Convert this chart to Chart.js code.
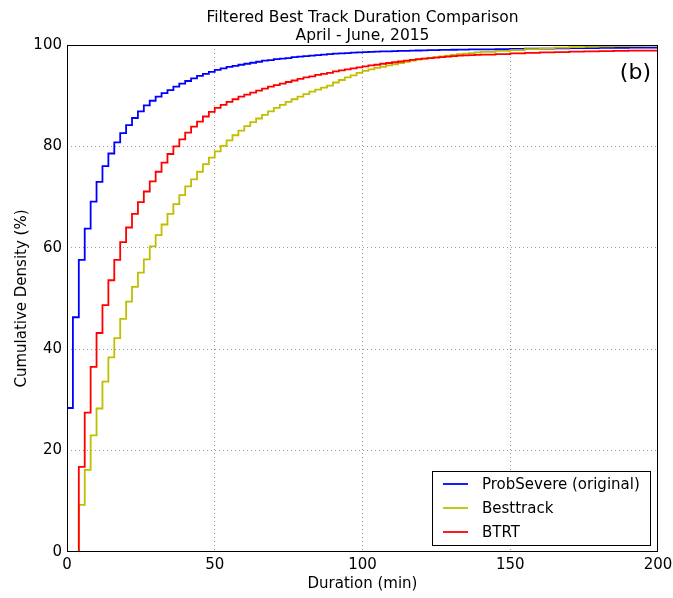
<!DOCTYPE html>
<html>
<head>
<meta charset="utf-8">
<script src="https://cdn.jsdelivr.net/npm/chart.js@4/dist/chart.umd.min.js"></script>
<style>
  html, body { margin: 0; padding: 0; background: #fff; }
  #wrap { width: 673px; height: 598px; }
</style>
</head>
<body>
<div id="wrap"><canvas id="c" width="673" height="598"></canvas></div>
<script>
// Duration (minutes) at which each cumulative value applies
const durations = [0,2,4,6,8,10,12,14,16,18,20,22,24,26,28,30,32,34,36,38,40,42,44,46,48,50,
  52,54,56,58,60,62,64,66,68,70,72,74,76,78,80,82,84,86,88,90,92,94,96,98,
  100,102,104,106,108,110,112,114,116,118,120,122,124,126,128,130,132,134,136,138,140,
  145,150,155,160,165,170,175,180,185,190,195,200];

const probSevere = [28.4,46.3,57.6,63.8,69.1,73.0,76.1,78.6,80.8,82.6,84.2,85.6,86.9,88.1,89.0,89.8,90.5,91.1,91.8,92.4,92.9,93.4,93.9,94.3,94.7,95.1,
  95.4,95.7,95.9,96.1,96.3,96.5,96.7,96.9,97.0,97.2,97.3,97.4,97.6,97.7,97.8,97.9,98.0,98.1,98.2,98.3,98.35,98.4,98.5,98.55,
  98.6,98.65,98.7,98.73,98.76,98.8,98.83,98.86,98.89,98.92,98.95,98.97,99.0,99.02,99.04,99.06,99.08,99.1,99.12,99.14,99.15,
  99.2,99.25,99.3,99.3,99.35,99.4,99.4,99.45,99.45,99.5,99.5,99.5];

const besttrack = [0,0,9.3,16.2,23.0,28.3,33.6,38.4,42.2,46.0,49.4,52.3,55.1,57.7,60.3,62.5,64.6,66.7,68.6,70.4,72.1,73.5,75.0,76.5,77.8,79.0,
  80.1,81.2,82.2,83.1,84.0,84.8,85.5,86.2,86.9,87.6,88.2,88.8,89.3,89.8,90.3,90.8,91.2,91.6,92.0,92.6,93.1,93.6,94.0,94.5,
  94.9,95.2,95.5,95.7,96.0,96.2,96.45,96.7,96.9,97.1,97.3,97.45,97.6,97.75,97.9,98.05,98.2,98.3,98.4,98.55,98.65,
  98.85,99.0,99.2,99.35,99.5,99.6,99.7,99.75,99.8,99.85,99.9,99.9];

const btrt = [0,0,16.8,27.5,36.5,43.2,48.7,53.6,57.6,61.1,64.0,66.7,69.0,71.1,73.1,75.0,76.8,78.5,80.0,81.4,82.7,83.9,84.9,85.9,86.8,87.6,
  88.2,88.8,89.3,89.8,90.2,90.6,91.0,91.4,91.8,92.1,92.4,92.7,93.0,93.3,93.6,93.8,94.1,94.3,94.5,94.8,95.0,95.2,95.4,95.6,
  95.8,96.0,96.1,96.3,96.45,96.6,96.75,96.9,97.05,97.2,97.3,97.4,97.5,97.6,97.7,97.8,97.9,97.95,98.0,98.05,98.1,
  98.2,98.35,98.45,98.55,98.6,98.7,98.75,98.8,98.85,98.9,98.9,98.95];

const seriesNames = ['ProbSevere (original)', 'Besttrack', 'BTRT'];
const titleLines = ['Filtered Best Track Duration Comparison', 'April - June, 2015'];
const xTitle = 'Duration (min)';
const yTitle = 'Cumulative Density (%)';
const panelTag = '(b)';

const FONT = "'DejaVu Sans', 'Liberation Sans', sans-serif";
const toPts = vals => durations.map((d, i) => ({ x: d, y: vals[i] }));

const framePlugin = {
  id: 'framePlugin',
  afterDraw(chart) {
    const { ctx, chartArea: a } = chart;
    ctx.save();
    ctx.fillStyle = '#000';
    ctx.font = '15.5px ' + FONT;
    ctx.textAlign = 'center';
    ctx.textBaseline = 'middle';
    const cx = (a.left + a.right) / 2;
    ctx.fillText(titleLines[0], cx, 18);
    ctx.fillText(titleLines[1], cx, 36);
    ctx.restore();
  },
  afterDatasetsDraw(chart) {
    const { ctx, chartArea: a } = chart;
    ctx.save();
    ctx.strokeStyle = '#000';
    ctx.lineWidth = 1;
    ctx.strokeRect(Math.round(a.left) + 0.5, Math.round(a.top) + 0.5,
                   Math.round(a.right - a.left) - 1, Math.round(a.bottom - a.top) - 1);
    ctx.fillStyle = '#000';
    ctx.font = '22px ' + FONT;
    ctx.textAlign = 'right';
    ctx.textBaseline = 'middle';
    ctx.fillText(panelTag, a.right - 7, a.top + 28);
    const bx = 432, by = 471, bw = 218, bh = 74;
    ctx.fillStyle = '#fff';
    ctx.fillRect(bx, by, bw, bh);
    ctx.strokeStyle = '#000';
    ctx.strokeRect(bx + 0.5, by + 0.5, bw, bh);
    ctx.font = '15px ' + FONT;
    ctx.textAlign = 'left';
    chart.data.datasets.forEach((ds, i) => {
      const yy = by + 13 + i * 24;
      ctx.strokeStyle = ds.borderColor;
      ctx.lineWidth = 1.8;
      ctx.beginPath();
      ctx.moveTo(bx + 11, yy);
      ctx.lineTo(bx + 36, yy);
      ctx.stroke();
      ctx.fillStyle = '#000';
      ctx.fillText(ds.label, bx + 50, yy + 1);
    });
    ctx.restore();
  }
};

new Chart(document.getElementById('c'), {
  type: 'line',
  data: {
    datasets: [
      { label: seriesNames[0], data: toPts(probSevere), borderColor: '#0000ff', order: 3 },
      { label: seriesNames[1], data: toPts(besttrack), borderColor: '#bfbf00', order: 2 },
      { label: seriesNames[2], data: toPts(btrt), borderColor: '#ff0000', order: 1 }
    ].map(d => Object.assign(d, { borderWidth: 1.8, pointRadius: 0, stepped: true, fill: false, tension: 0 }))
  },
  options: {
    responsive: false,
    animation: false,
    devicePixelRatio: 1,
    layout: { padding: { top: 45, right: 15, left: 0, bottom: 0 } },
    plugins: {
      legend: { display: false },
      tooltip: { enabled: false },
      title: { display: false }
    },
    scales: {
      x: {
        type: 'linear',
        min: 0, max: 200,
        afterFit(s) { s.height = 46; s.paddingRight = 0; s.paddingLeft = 0; },
        ticks: { stepSize: 50, color: '#000', padding: 4, font: { family: FONT, size: 15 } },
        grid: {
          color: ctx => (ctx.tick && (ctx.tick.value === 0 || ctx.tick.value === 200)) ? 'rgba(0,0,0,0)' : '#9a9a9a',
          lineWidth: 1, drawTicks: false
        },
        border: { display: false, dash: [1, 3] },
        title: { display: true, text: xTitle, color: '#000', font: { family: FONT, size: 15 }, padding: { top: 0, bottom: 5 } }
      },
      y: {
        min: 0, max: 100,
        afterFit(s) { s.width = 67; s.paddingTop = 0; s.paddingBottom = 0; },
        ticks: { stepSize: 20, color: '#000', padding: 5, font: { family: FONT, size: 15 } },
        grid: {
          color: ctx => (ctx.tick && (ctx.tick.value === 0 || ctx.tick.value === 100)) ? 'rgba(0,0,0,0)' : '#9a9a9a',
          lineWidth: 1, drawTicks: false
        },
        border: { display: false, dash: [1, 3] },
        title: { display: true, text: yTitle, color: '#000', font: { family: FONT, size: 15 }, padding: { top: 13, bottom: 0 } }
      }
    }
  },
  plugins: [framePlugin]
});
</script>
</body>
</html>
